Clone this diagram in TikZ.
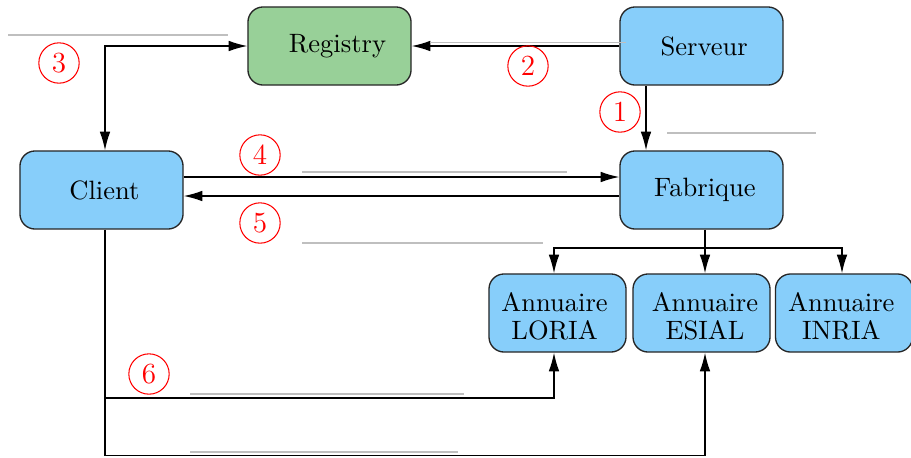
\documentclass[tikz,border=0pt]{standalone}
\usetikzlibrary{arrows.meta}
\definecolor{bluefill}{RGB}{135,206,250}
\definecolor{greenfill}{RGB}{152,208,152}
\begin{document}
\begin{tikzpicture}[x=0.01325cm,y=-0.01325cm,
 box/.style={draw=black!85, rounded corners=0.2cm, minimum width=2.16cm, minimum height=1.034cm, fill=bluefill, line width=0.5pt},
 ann/.style={box, minimum width=1.815cm},
 txt/.style={align=center, inner sep=0pt, font=\fontsize{10}{10.6}\selectfont},
 conn/.style={-{Latex[length=7pt,width=4pt]}, line width=0.5pt},
 plain/.style={line width=0.5pt},
 num/.style={circle, draw=red, text=red, minimum size=15.2pt, inner sep=0pt, font=\fontsize{11}{13}\selectfont},
 ghost/.style={draw=black!25, line width=0.5pt}]
\useasboundingbox (0,0) rectangle (911,457);
% nodes
\node[box, fill=greenfill, label={[txt, xshift=3pt]center:Registry}] (Registry) at (329.5,46) {};
\node[box, label={[txt, xshift=1pt]center:Serveur}] (Serveur) at (701.5,46) {};
\node[box, label={[txt, xshift=1.1pt]center:Client}] (Client) at (101.5,190) {};
\node[box, label={[txt, xshift=1.3pt]center:Fabrique}] (Fabrique) at (701.5,190) {};
\node[ann, label={[txt, xshift=-1.1pt, yshift=-1.2pt]center:Annuaire\\LORIA}] (LORIA) at (557.5,313) {};
\node[ann, label={[txt, xshift=1.3pt, yshift=-1.2pt]center:Annuaire\\ESIAL}] (ESIAL) at (701.5,313) {};
\node[ann, label={[txt, xshift=-1pt, yshift=-1.2pt]center:Annuaire\\INRIA}] (INRIA) at (844,313) {};
% helper coordinates
\coordinate (xC) at (105,0);
\coordinate (xS) at (646,0);
\coordinate (xL) at (554,0);
\coordinate (xE) at (705,0);
\coordinate (xI) at (842,0);
\coordinate (split) at (705,248);
\coordinate (b6) at (105,398);
\coordinate (b7) at (105,455.5);
\coordinate (y4) at (0,177);
\coordinate (y5) at (0,196);
% connectors
\draw[conn] (Serveur.west) -- (Registry.east);
\draw[conn] (Serveur.south -| xS) -- (Fabrique.north -| xS);
\draw[{Latex[length=7pt,width=4pt]}-{Latex[length=7pt,width=4pt]}, line width=0.5pt] (Registry.west) -| (Client.north -| xC);
\draw[conn] (Client.east |- y4) -- (Fabrique.west |- y4);
\draw[conn] (Fabrique.west |- y5) -- (Client.east |- y5);
\draw[plain] (Fabrique.south -| split) -- (split);
\draw[conn] (split) -| (LORIA.north -| xL);
\draw[conn] (split) -- (ESIAL.north -| xE);
\draw[conn] (split) -| (INRIA.north -| xI);
\draw[conn] (Client.south -| xC) -- (b6) -| (LORIA.south -| xL);
\draw[conn] (b6) -- (b7) -| (ESIAL.south -| xE);
% numbers
\node[num] (n1) at (620,112) {1};
\node[num] (n2) at (528,66) {2};
\node[num] (n3) at (59,63) {3};
\node[num] (n4) at (260,155) {4};
\node[num] (n5) at (260,223) {5};
\node[num] (n6) at (149,374) {6};
% faint label lines
\draw[ghost] (8,35) -- (228,35);
\draw[ghost] (430,42.5) -- (626,42.5);
\draw[ghost] (667,133) -- (816,133);
\draw[ghost] (302,172) -- (567,172);
\draw[ghost] (302,243) -- (543,243);
\draw[ghost] (190,394) -- (464,394);
\draw[ghost] (190,452) -- (458,452);
\end{tikzpicture}
\end{document}
